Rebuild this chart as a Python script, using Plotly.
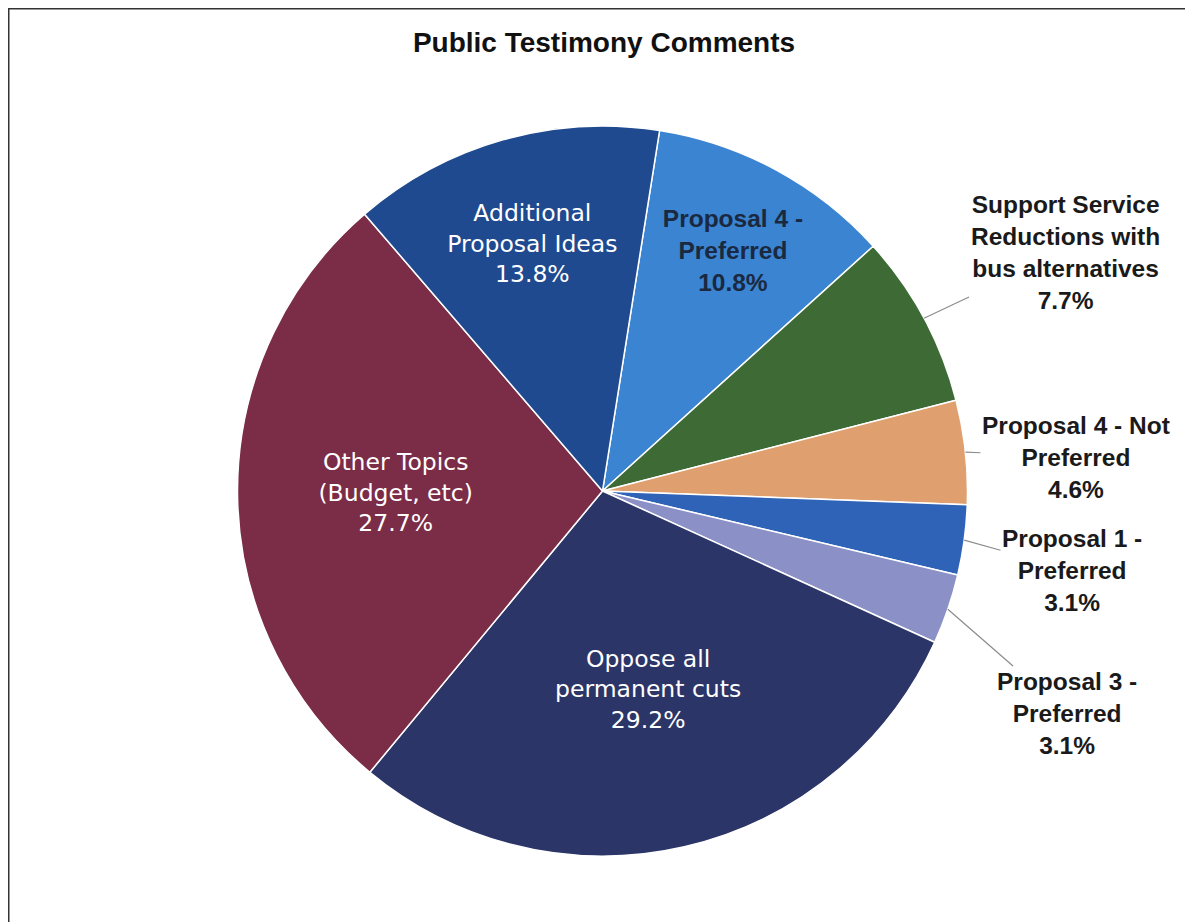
import math
import plotly.graph_objects as go

# ---- data ----
categories = [
    "Proposal 4 - Preferred",
    "Support Service Reductions with bus alternatives",
    "Proposal 4 - Not Preferred",
    "Proposal 1 - Preferred",
    "Proposal 3 - Preferred",
    "Oppose all permanent cuts",
    "Other Topics (Budget, etc)",
    "Additional Proposal Ideas",
]
label_text = [
    "Proposal 4 -<br>Preferred",
    "Support Service<br>Reductions with<br>bus alternatives",
    "Proposal 4 - Not<br>Preferred",
    "Proposal 1 -<br>Preferred",
    "Proposal 3 -<br>Preferred",
    "Oppose all<br>permanent cuts",
    "Other Topics<br>(Budget, etc)",
    "Additional<br>Proposal Ideas",
]
values = [10.8, 7.7, 4.6, 3.1, 3.1, 29.2, 27.7, 13.8]
colors = ["#3a84d2", "#3d6a35", "#e09f6e", "#2f63b7", "#8b91c7",
          "#2c3567", "#7b2c47", "#1f4a8f"]
inside = [True, False, False, False, False, True, True, True]

# ---- layout geometry (reference pixels; page has an 8px body margin) ----
OFF = 8
W, H = 1193 - OFF, 922 - OFF
CX, CY, R = 602.5, 491.0, 365.0
ROT = 9.0


def px(x):
    return (x - OFF) / W


def py(y):
    return 1 - (y - OFF) / H


texttemplate = [("%{customdata}<br>%{percent:.1%}" if ins else "") for ins in inside]
texttemplate = [("<b>%s</b>" % t if i == 0 else t) for i, t in enumerate(texttemplate)]
txt_color = ["#1b2940" if i == 0 else "white" for i in range(len(values))]
txt_family = ["Arial, Liberation Sans" if i == 0 else "DejaVu Sans" for i in range(len(values))]
txt_size = [24.5 if i == 0 else 23.5 for i in range(len(values))]

fig = go.Figure()
fig.add_trace(go.Pie(
    labels=categories,
    values=values,
    customdata=label_text,
    sort=False,
    direction="clockwise",
    rotation=ROT,
    marker=dict(colors=colors, line=dict(color="white", width=1.5)),
    texttemplate=texttemplate,
    textposition="inside",
    insidetextorientation="horizontal",
    insidetextfont=dict(color=txt_color, family=txt_family, size=txt_size),
    hoverinfo="label+percent",
    showlegend=False,
    domain=dict(x=[px(CX - R), px(CX + R)], y=[py(CY + R), py(CY - R)]),
))

# outside labels with leader lines (arrow head at slice mid-angle on the rim)
outside_text_pos = {1: (1065, 252), 2: (1076, 457), 3: (1072, 570), 4: (1067, 713)}
total = sum(values)
cum = 0.0
annotations = []
for i, v in enumerate(values):
    a0 = ROT + 360.0 * cum / total
    cum += v
    a1 = ROT + 360.0 * cum / total
    if i in outside_text_pos:
        mid = math.radians((a0 + a1) / 2)
        hx = CX + R * math.sin(mid)
        hy = CY - R * math.cos(mid)
        tx, ty = outside_text_pos[i]
        annotations.append(dict(
            x=px(hx), y=py(hy), xref="paper", yref="paper",
            ax=tx - hx, ay=ty - hy, axref="pixel", ayref="pixel",
            text="<b>%s<br>%.1f%%</b>" % (label_text[i], v / total * 100),
            showarrow=True, arrowhead=0, arrowwidth=1.2, arrowcolor="#8c8c8c",
            standoff=0, startstandoff=0,
            font=dict(family="Arial, Liberation Sans", size=24.5, color="#1a1a1a"),
            align="center",
        ))

shapes = [
    dict(type="line", xref="paper", yref="paper", x0=0, x1=px(1192), y0=1, y1=1,
         line=dict(color="#333333", width=3)),
    dict(type="line", xref="paper", yref="paper", x0=0, x1=0, y0=0, y1=1,
         line=dict(color="#333333", width=3)),
    dict(type="line", xref="paper", yref="paper", x0=px(1191.5), x1=px(1191.5), y0=py(766), y1=0,
         line=dict(color="#333333", width=2)),
]

fig.update_layout(
    width=W, height=H,
    margin=dict(l=0, r=0, t=0, b=0),
    paper_bgcolor="white", plot_bgcolor="white",
    title=dict(text="<b>Public Testimony Comments</b>", x=px(604), y=py(42),
               xanchor="center", yanchor="middle",
               font=dict(family="Arial, Liberation Sans", size=28, color="#111111")),
    annotations=annotations,
    shapes=shapes,
)

fig.write_html("out.html")
